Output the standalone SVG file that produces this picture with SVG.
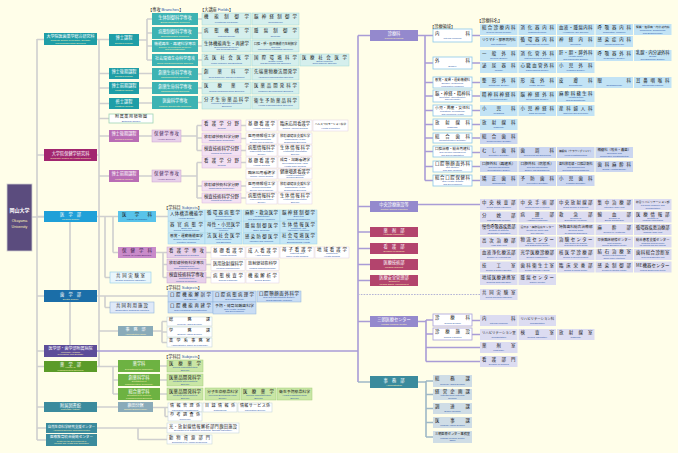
<svg xmlns="http://www.w3.org/2000/svg" width="678" height="453" viewBox="0 0 678 453">
<style>
.j{font-family:"Noto Sans CJK JP","Noto Sans CJK SC",sans-serif;font-size:4.4px;fill:#1a1a1a}
.jw{font-family:"Noto Sans CJK JP","Noto Sans CJK SC",sans-serif;font-size:4.2px;fill:#fff;text-anchor:middle}
.e{font-family:"Liberation Sans",Arial,sans-serif;font-size:2.4px;fill:#2b56a8;text-anchor:middle}
.ew{font-family:"Liberation Sans",Arial,sans-serif;font-size:2.5px;fill:#fff5b8;text-anchor:middle}
.lb{font-family:"Noto Sans CJK JP","Noto Sans CJK SC",sans-serif;font-size:4.2px;fill:#222}
.lb tspan{fill:#2b56a8;font-family:"Liberation Sans",Arial,sans-serif}
.l{stroke:#cfcfcf;stroke-width:1.6;fill:none}
.h{stroke:#a99cd6;stroke-width:1.6;fill:none}
.a{stroke:#9fb8c6;stroke-width:1.6;fill:none}
.dsh{stroke:#b4b4d6;stroke-width:1.2;stroke-dasharray:1.6 1.2;fill:none}
.t1{fill:#1f9ea7}.t2{fill:#3db3b3}.fd{fill:#d5efed;stroke:#a3d8d3;stroke-width:.5}
.mg{fill:#a2266f}.pk{fill:#b96db5}.lp{fill:#e7d0ea;stroke:#c9a2d1;stroke-width:.5}
.pf{fill:#f3e1f3;stroke:#d9b5dd;stroke-width:.5}.wb{fill:#fff;stroke:#e0cfe4;stroke-width:.5}
.bl{fill:#1fa0d8}.bm{fill:#58c3ea}.bs{fill:#c6e7f6;stroke:#9fd3ea;stroke-width:.5}
.db{fill:#1b6ea8}.ds{fill:#c9ddf4;stroke:#8fb3dc;stroke-width:.5}
.hp{fill:#5d4d99}.lv{fill:#9489cd}.mr{fill:#b3446d}
.gr{fill:#5b9b29}.gm{fill:#6db242}.gs{fill:#c9e6a5;stroke:#a0cd78;stroke-width:.5}
.tl{fill:#3b8b9d}.gb{fill:#8aabb9}.wg{fill:#fff;stroke:#c6d6de;stroke-width:.6}
.cd{fill:#c2e3f5}.cp{fill:#cbd6f0}.cf{fill:#dcdcf1}
.wo{fill:#fff;stroke:#8cc8e8;stroke-width:.8}.wl{fill:#fff;stroke:#a9a1d9;stroke-width:.8}
.ad{fill:#cfdde6}.gn{fill:#fff;stroke:#9fd4b4;stroke-width:.8}.cr{fill:#e9f6fc;stroke:#8fcde8;stroke-width:.6}
</style>
<rect width="678" height="453" fill="#fffee9"/>

<g id="connectors">
<path class="l" d="M37 39V440M32 217H44M37 39.5H44M37 155H44M37 216.5H44M37 296H44M37 351H44M37 366.5H44M37 407H44M37 428H46M37 440H46
M99 39.5V367M97 39.5H109M99 73.5H109M99 88H109M99 103.5H109M99 118.5H109M97 155H99M99 136H109M99 176H109
M139 40H147M147 19V60M147 19H152M147 33H152M147 46H152M147 60H152M139 73.5H152M139 88H152M139 103H152
M198 19H202M198 33H202M198 46H202M198 60H202M198 74H202M198 88H202M198 102.5H202
M139 136H152M181 136H197M197 125.5V150.5M197 125.5H202M197 138H202M197 150.5H202M241 125.5H246M241 138.5H246M241 150.5H246
M139 176H152M181 176H197M197 162.5V198M197 162.5H202M197 186H202M197 198H202M241 162.5H246M241 186H246M241 198H246
M97 216.5H118M105 216.5V277.5M105 277.5H110M113 216.5V252.5M113 252.5H118M156 216.5H168M70 222V345
M156 252.5H163M163 252.5V277.5M163 252.5H167M163 264.5H167M163 277.5H167M206 252.5H211M206 264.5H211M206 277.5H211
M97 296H168M105 296V307.5M105 307.5H110
M99 331H118M153 331H162M162 321.5V342.5M162 321.5H167M162 332H167M162 342.5H167
M97 366.5H118M113 366.5V394M113 380H118M113 394H118M160 366H167M160 380H167M160 394H167
M97 407H118M153 407.5H168M165 407.5V416.5M165 416.5H168
M97 428H167M138 428V439.5M138 439.5H167"/>
<path class="h" d="M97 351H358M358 35.5V382M358 35.5H370M358 206.5H370M358 232H370M358 248.5H370M358 264.5H370M358 280.5H370M358 321.5H370
M418 35.5H425M425 35.5V180.5M425 35.5H433M425 63H433M425 82.5H433M425 96H433M425 110.5H433M425 124.5H433M425 138H433M425 151.5H433M425 166.5H433M425 180.5H433
M472 35.5H480M472 63H480M472 82.5H480M472 96H480M472 110.5H480M472 124.5H480M472 138H480M472 152.5H480M472 166.5H480M472 180.5H480
M418 204.5H480M418 321.5H426M426 320V361.5M426 320H433M426 334H433M426 347.5H480M426 361.5H480M472 320.5H480M472 334.5H480"/>
<path class="a" d="M358 382H370M418 382H426M426 381V437M426 381H433M426 394.5H433M426 408.5H433M426 422.5H433M426 437H433"/>
<path class="dsh" d="M358 294.5H480"/>
</g>

<g id="labels">
<text class="lb" x="148" y="10.5">【専攻 <tspan>Branches</tspan>】</text>
<text class="lb" x="200" y="10.5">【大講座 <tspan>Fields</tspan>】</text>
<text class="lb" x="164" y="208.5">【学科目 <tspan>Subjects</tspan>】</text>
<text class="lb" x="164" y="289">【学科目 <tspan>Subjects</tspan>】</text>
<text class="lb" x="164" y="357.5">【学科目 <tspan>Subjects</tspan>】</text>
<text class="lb" x="430" y="27.5">【診療領域】</text>
<text class="lb" x="477" y="22">【診療科名】</text>
</g>

<g id="okayama"><rect x="7" y="184" width="25" height="67" fill="#5b4c7e" stroke="#cfcfcf" stroke-width=".8"/><text class="jw" x="19.5" y="212" style="font-size:5px;font-weight:bold">岡山大学</text><text class="ew" x="19.5" y="222" style="font-size:3.6px">Okayama</text><text class="ew" x="19.5" y="227.5" style="font-size:3.6px">University</text></g>

<g id="gs-mdp"><rect class="t1" x="44" y="33" width="53" height="12"/><text class="jw" x="70.5" y="37.9" style="font-size:4px">大学院医歯薬学総合研究科</text><text class="ew" x="70.5" y="40.9" style="font-size:2.3px">Graduate School of Medicine, Dentistry</text><text class="ew" x="70.5" y="43.6" style="font-size:2.3px">and Pharmaceutical Sciences</text></g>
<g id="gs-health"><rect class="mg" x="44" y="149" width="53" height="12"/><text class="jw" x="70.5" y="154.5">大学院保健学研究科</text><text class="ew" x="70.5" y="158.8">Graduate School of Health Sciences</text></g>
<g id="medical-school"><rect class="bl" x="44" y="211" width="53" height="11"/><text class="jw" x="70.5" y="216.2">医　学　部</text><text class="ew" x="70.5" y="220">Medical School</text></g>
<g id="dental-school"><rect class="db" x="44" y="290" width="53" height="12"/><text class="jw" x="70.5" y="295.5">歯　学　部</text><text class="ew" x="70.5" y="299.7">Dental School</text></g>
<g id="hospital"><rect class="hp" x="44" y="345" width="53" height="12"/><text class="jw" x="70.5" y="349.8" style="font-size:4px">医学部・歯学部附属病院</text><text class="ew" x="70.5" y="352.7" style="font-size:2.3px">University Hospital</text><text class="ew" x="70.5" y="355.4" style="font-size:2.3px">of Medicine and Dentistry</text></g>
<g id="pharm-faculty"><rect class="gr" x="44" y="361" width="53" height="11"/><text class="jw" x="70.5" y="365.5">薬　学　部</text><text class="ew" x="70.5" y="368.3" style="font-size:2.3px">Faculty of</text><text class="ew" x="70.5" y="370.8" style="font-size:2.3px">Pharmaceutical Sciences</text></g>
<g id="library"><rect class="tl" x="44" y="402" width="53" height="10"/><text class="jw" x="70.5" y="406.6">附属図書館</text><text class="ew" x="70.5" y="410.3">University Library</text></g>
<g id="asrc"><rect class="tl" x="46" y="423" width="51" height="10"/><text class="jw" x="71.5" y="427.5" style="font-size:3.4px">自然生命科学研究支援センター</text><text class="ew" x="71.5" y="431.3" style="font-size:2.3px">Advanced Science Research Center</text></g>
<g id="cdmhe"><rect class="tl" x="46" y="434" width="51" height="12"/><text class="jw" x="71.5" y="438.4" style="font-size:3.6px">医療教育統合開発センター</text><text class="ew" x="71.5" y="441.5" style="font-size:2.2px">Center for the Development of</text><text class="ew" x="71.5" y="444.3" style="font-size:2.2px">Medical and Health Care Education</text></g>

<g id="doctor-course"><rect class="t1" x="109" y="34" width="30" height="12"/><text class="jw" x="124" y="39.3">博士課程</text><text class="ew" x="124" y="43.5">Doctor's Course</text></g>
<g id="doctor-late"><rect class="t1" x="109" y="68" width="30" height="11"/><text class="jw" x="124" y="72.8">博士後期課程</text><text class="ew" x="124" y="76.8">Doctor's Course</text></g>
<g id="master-early"><rect class="t1" x="109" y="82" width="30" height="12"/><text class="jw" x="124" y="87">博士前期課程</text><text class="ew" x="124" y="91">Master's Course</text></g>
<g id="master-course"><rect class="t1" x="109" y="98" width="30" height="11"/><text class="jw" x="124" y="102.8">修士課程</text><text class="ew" x="124" y="106.8">Master's Course</text></g>
<g id="botanical"><rect class="gn" x="109" y="114" width="44" height="9"/><text class="j" x="115" y="118.4" textLength="32" style="font-size:4px">附属薬用植物園</text><text class="e" x="131" y="121.8">Botanical Garden</text></g>
<g id="h-doctor"><rect class="pk" x="109" y="130" width="30" height="12"/><text class="jw" x="124" y="135.2">博士後期課程</text><text class="ew" x="124" y="139.5">Doctor's Course</text></g>
<g id="h-master"><rect class="pk" x="109" y="170" width="30" height="12"/><text class="jw" x="124" y="175.2">博士前期課程</text><text class="ew" x="124" y="179.5">Master's Course</text></g>

<g id="br1"><rect class="t2" x="152" y="13" width="46" height="12"/><text class="jw" x="175" y="18.6">生体制御科学専攻</text><text class="ew" x="175" y="22.6">Biophysiological Sciences</text></g>
<g id="br2"><rect class="t2" x="152" y="27" width="46" height="12"/><text class="jw" x="175" y="32.6">病態制御科学専攻</text><text class="ew" x="175" y="36.6">Biopathological Sciences</text></g>
<g id="br3"><rect class="t2" x="152" y="40" width="46" height="12"/><text class="jw" x="175" y="44.5" style="font-size:3.8px">機能再生・再建科学専攻</text><text class="ew" x="175" y="47.6" style="font-size:2.3px">Science of Functional Recovery</text><text class="ew" x="175" y="50.3" style="font-size:2.3px">and Reconstruction</text></g>
<g id="br4"><rect class="t2" x="152" y="54" width="46" height="12"/><text class="jw" x="175" y="59.6" style="font-size:4px">社会環境生命科学専攻</text><text class="ew" x="175" y="63.6" style="font-size:2.3px">Social and Environmental Sciences</text></g>
<g id="br5"><rect class="t2" x="152" y="68" width="46" height="12"/><text class="jw" x="175" y="73.6">創薬生命科学専攻</text><text class="ew" x="175" y="77.6">Pharmaceutical Sciences</text></g>
<g id="br6"><rect class="t2" x="152" y="82" width="46" height="12"/><text class="jw" x="175" y="87.6">創薬生命科学専攻</text><text class="ew" x="175" y="91.6">Pharmaceutical Sciences</text></g>
<g id="br7"><rect class="t2" x="152" y="96" width="46" height="13"/><text class="jw" x="175" y="102">医歯科学専攻</text><text class="ew" x="175" y="106.5">Medical and Dental Sciences</text></g>

<g id="f1a"><rect class="fd" x="202" y="13" width="49" height="12"/><text class="j" x="204" y="18.3" textLength="45">機能制御学</text><text class="e" x="226.5" y="22.6">Functional Physiology</text></g>
<g id="f1b"><rect class="fd" x="252" y="13" width="47" height="12"/><text class="j" x="254" y="18.3" textLength="43">脳神経制御学</text><text class="e" x="275.5" y="22.6">Neuroscience</text></g>
<g id="f2a"><rect class="fd" x="202" y="27" width="49" height="12"/><text class="j" x="204" y="32.3" textLength="45">病態機構学</text><text class="e" x="226.5" y="36.6">Pathophysiology</text></g>
<g id="f2b"><rect class="fd" x="252" y="27" width="47" height="12"/><text class="j" x="254" y="32.3" textLength="43">腫瘍制御学</text><text class="e" x="275.5" y="36.6">Oncology</text></g>
<g id="f3a"><rect class="fd" x="202" y="40" width="49" height="12"/><text class="j" x="204" y="44.5" textLength="45">生体機能再生・再建学</text><text class="e" x="226.5" y="47.6">Biofunctional Recovery</text><text class="e" x="226.5" y="50.3">and Reconstruction</text></g>
<g id="f3b"><rect class="fd" x="252" y="40" width="47" height="12"/><text class="j" x="254" y="44.5" textLength="43" style="font-size:3.07px">口腔・顎・顔面機能再生制御学</text><text class="e" x="275.5" y="47.6">Oral and</text><text class="e" x="275.5" y="50.3">Maxillofacial Functional Recovery</text></g>
<g id="f4a"><rect class="fd" x="202" y="54" width="49" height="12"/><text class="j" x="204" y="59.3" textLength="45">法医社会医学</text><text class="e" x="226.5" y="63.6">Legal Medicine and Bioethics</text></g>
<g id="f4b"><rect class="fd" x="252" y="54" width="47" height="12"/><text class="j" x="254" y="58.5" textLength="43">国際環境科学</text><text class="e" x="275.5" y="61.6">Global Health</text><text class="e" x="275.5" y="64.3">and Environmental Sciences</text></g>
<g id="f4c"><rect class="fd" x="300" y="54" width="49" height="12"/><text class="j" x="302" y="58.5" textLength="45">医療社会医学</text><text class="e" x="324.5" y="61.6">Social Medicine</text><text class="e" x="324.5" y="64.3">and Longevity Science</text></g>
<g id="f5a"><rect class="fd" x="202" y="68" width="49" height="12"/><text class="j" x="204" y="73.3" textLength="45">創薬科学</text><text class="e" x="226.5" y="77.6">Drug Discovery and Development</text></g>
<g id="f5b"><rect class="fd" x="252" y="68" width="47" height="12"/><text class="j" x="254" y="73.3" textLength="43">先端薬物療法開発学</text><text class="e" x="275.5" y="77.6">Advanced Pharmacotherapeutics</text></g>
<g id="f6a"><rect class="fd" x="202" y="82" width="49" height="12"/><text class="j" x="204" y="87.3" textLength="45">医療薬学</text><text class="e" x="226.5" y="91.6">Clinical Pharmaceutical Sciences</text></g>
<g id="f6b"><rect class="fd" x="252" y="82" width="47" height="12"/><text class="j" x="254" y="87.3" textLength="43">医薬品開発科学</text><text class="e" x="275.5" y="91.6">Medicine Development Sciences</text></g>
<g id="f7a"><rect class="fd" x="202" y="96" width="49" height="13"/><text class="j" x="204" y="101" textLength="45">分子生命薬品科学</text><text class="e" x="226.5" y="104.3">Molecular Biopharmaceutical</text><text class="e" x="226.5" y="107">Sciences</text></g>
<g id="f7b"><rect class="fd" x="252" y="96" width="47" height="13"/><text class="j" x="254" y="101.8" textLength="43">衛生予防薬品科学</text><text class="e" x="275.5" y="106">Health Pharmaceutical Sciences</text></g>

<g id="hs-d"><rect class="lp" x="152" y="130" width="29" height="12"/><text class="j" x="154" y="135.2" textLength="25" style="fill:#4a2a5a">保健学専攻</text><text class="e" x="166.5" y="139.5" style="fill:#6a3a8a">Health Sciences</text></g>
<g id="hs-m"><rect class="lp" x="152" y="170" width="29" height="12"/><text class="j" x="154" y="175.2" textLength="25" style="fill:#4a2a5a">保健学専攻</text><text class="e" x="166.5" y="179.5" style="fill:#6a3a8a">Health Sciences</text></g>
<g id="hfd1"><rect class="pf" x="202" y="120" width="39" height="11"/><text class="j" x="204" y="125.2" textLength="35">看護学分野</text><text class="e" x="221.5" y="129.2">Nursing</text></g>
<g id="hfd2"><rect class="pf" x="202" y="133" width="39" height="10"/><text class="j" x="204" y="137.6" textLength="35" style="font-size:3.9px">放射線技術科学分野</text><text class="e" x="221.5" y="141.3">Radiological Technology</text></g>
<g id="hfd3"><rect class="pf" x="202" y="145" width="39" height="11"/><text class="j" x="204" y="150.2" textLength="35">検査技術科学分野</text><text class="e" x="221.5" y="154.2">Medical Technology</text></g>
<g id="hfm1"><rect class="pf" x="202" y="157" width="39" height="11"/><text class="j" x="204" y="162.2" textLength="35">看護学分野</text><text class="e" x="221.5" y="166.2">Nursing</text></g>
<g id="hfm2"><rect class="pf" x="202" y="181" width="39" height="10"/><text class="j" x="204" y="185.6" textLength="35" style="font-size:3.9px">放射線技術科学分野</text><text class="e" x="221.5" y="189.3">Radiological Technology</text></g>
<g id="hfm3"><rect class="pf" x="202" y="193" width="39" height="10"/><text class="j" x="204" y="197.6" textLength="35">検査技術科学分野</text><text class="e" x="221.5" y="201.3">Medical Technology</text></g>

<g id="hsd1"><rect class="wb" x="246" y="120" width="31" height="11"/><text class="j" x="248" y="125.2" textLength="27">基礎看護学</text><text class="e" x="261.5" y="129.2">Human Nursing</text></g>
<g id="hsd2"><rect class="wb" x="278" y="120" width="34" height="11"/><text class="j" x="280" y="125.2" textLength="30" style="font-size:4.29px">臨床応用看護学</text><text class="e" x="295" y="129.2">Clinical Applied Nursing</text></g>
<g id="hsd3"><rect class="wb" x="313" y="120" width="35" height="11"/><text class="j" x="315" y="125.2" textLength="31" style="font-size:2.58px">ヘルスプロモーション科学</text><text class="e" x="330.5" y="129.2">Health Promotion</text></g>
<g id="hsd4"><rect class="wb" x="246" y="133" width="31" height="11"/><text class="j" x="248" y="137.4" textLength="27" style="font-size:3.86px">医用情報理工学</text><text class="e" x="261.5" y="140.3" style="font-size:2.2px">Medical Informatics</text><text class="e" x="261.5" y="142.9" style="font-size:2.2px">Science and Technology</text></g>
<g id="hsd5"><rect class="wb" x="278" y="133" width="34" height="11"/><text class="j" x="280" y="137.4" textLength="30" style="font-size:3.33px">放射線健康支援科学</text><text class="e" x="295" y="140.3">Radiological Health</text><text class="e" x="295" y="142.9">Supporting Sciences</text></g>
<g id="hsd6"><rect class="wb" x="246" y="145" width="31" height="11"/><text class="j" x="248" y="149.4" textLength="27">病態情報科学</text><text class="e" x="261.5" y="152.3" style="font-size:2.2px">Pathological Information</text><text class="e" x="261.5" y="154.9" style="font-size:2.2px">Science</text></g>
<g id="hsd7"><rect class="wb" x="278" y="145" width="34" height="11"/><text class="j" x="280" y="149.4" textLength="30">生体情報科学</text><text class="e" x="295" y="152.3">Functional Information</text><text class="e" x="295" y="154.9">Science</text></g>
<g id="hsm1"><rect class="wb" x="246" y="157" width="31" height="11"/><text class="j" x="248" y="162.2" textLength="27">基礎看護学</text><text class="e" x="261.5" y="166.2">Human Nursing</text></g>
<g id="hsm2"><rect class="wb" x="278" y="157" width="34" height="11"/><text class="j" x="280" y="161.4" textLength="30" style="font-size:3.75px">成育・加齢看護学</text><text class="e" x="295" y="164.3">Development and Aging</text><text class="e" x="295" y="166.9">Health Care Nursing</text></g>
<g id="hsm3"><rect class="wb" x="246" y="169" width="31" height="10"/><text class="j" x="248" y="173.6" textLength="27" style="font-size:3.86px">臨床応用看護学</text><text class="e" x="261.5" y="177.3" style="font-size:2.2px">Clinical Applied Nursing</text></g>
<g id="hsm4"><rect class="wb" x="278" y="169" width="34" height="10"/><text class="j" x="280" y="173" textLength="30" style="font-size:4.29px">健康増進看護学</text><text class="e" x="295" y="175.7">Health Promotion</text><text class="e" x="295" y="178.2">Nursing Science</text></g>
<g id="hsm5"><rect class="wb" x="246" y="181" width="31" height="11"/><text class="j" x="248" y="185.4" textLength="27" style="font-size:3.86px">医用情報理工学</text><text class="e" x="261.5" y="188.3" style="font-size:2.2px">Medical Informatics</text><text class="e" x="261.5" y="190.9" style="font-size:2.2px">Science and Technology</text></g>
<g id="hsm6"><rect class="wb" x="278" y="181" width="34" height="11"/><text class="j" x="280" y="185.4" textLength="30" style="font-size:3.33px">放射線健康支援科学</text><text class="e" x="295" y="188.3">Radiological Health</text><text class="e" x="295" y="190.9">Supporting Sciences</text></g>
<g id="hsm7"><rect class="wb" x="246" y="193" width="31" height="11"/><text class="j" x="248" y="197.4" textLength="27">病態情報科学</text><text class="e" x="261.5" y="200.3" style="font-size:2.2px">Pathological Information</text><text class="e" x="261.5" y="202.9" style="font-size:2.2px">Science</text></g>
<g id="hsm8"><rect class="wb" x="278" y="193" width="34" height="11"/><text class="j" x="280" y="197.4" textLength="30">生体情報科学</text><text class="e" x="295" y="200.3">Functional Information</text><text class="e" x="295" y="202.9">Science</text></g>

<g id="fac-medicine"><rect class="bm" x="118" y="211" width="38" height="11"/><text class="j" x="122" y="216.2" textLength="30">医学科</text><text class="e" x="137" y="220.2" style="fill:#1a4a8a">Faculty of Medicine</text></g>
<g id="fac-health"><rect x="118" y="247" width="38" height="11" fill="#c98bc9"/><text class="j" x="122" y="252.2" textLength="30" style="fill:#3a1a4a">保健学科</text><text class="e" x="137" y="256.2" style="fill:#4a1a6a">Faculty of Health Sciences</text></g>
<g id="central-lab-med"><rect class="cr" x="110" y="272" width="41" height="11"/><text class="j" x="116" y="277.2" textLength="29">共同実験室</text><text class="e" x="130.5" y="281.2">Central Research Laboratory</text></g>

<g id="ms1"><rect class="bs" x="168" y="210" width="37" height="11"/><text class="j" x="170" y="215.2" textLength="33">人体構造機能学</text><text class="e" x="186.5" y="219.2">Human Biology</text></g>
<g id="ms2"><rect class="bs" x="205" y="210" width="37" height="11"/><text class="j" x="207" y="214.4" textLength="33">循環器病態学</text><text class="e" x="223.5" y="217.3">Cardiovascular</text><text class="e" x="223.5" y="219.9">Pathophysiology</text></g>
<g id="ms3"><rect class="bs" x="243" y="210" width="37" height="11"/><text class="j" x="245" y="214.4" textLength="33">麻酔・救急医学</text><text class="e" x="261.5" y="217.3">Anesthesiology</text><text class="e" x="261.5" y="219.9">and Emergency Medicine</text></g>
<g id="ms4"><rect class="bs" x="280" y="210" width="37" height="11"/><text class="j" x="282" y="214.4" textLength="33">脳神経制御学</text><text class="e" x="298.5" y="217.3">Brain and</text><text class="e" x="298.5" y="219.9">Clinical Neuroscience</text></g>
<g id="ms5"><rect class="bs" x="168" y="221.5" width="37" height="11"/><text class="j" x="170" y="225.9" textLength="33">器官病態学</text><text class="e" x="186.5" y="228.8">Basic and</text><text class="e" x="186.5" y="231.4">Clinical Pathophysiology</text></g>
<g id="ms6"><rect class="bs" x="205" y="221.5" width="37" height="11"/><text class="j" x="207" y="225.9" textLength="33">母性・小児医学</text><text class="e" x="223.5" y="228.8">Mother and Child</text><text class="e" x="223.5" y="231.4">Medicine</text></g>
<g id="ms7"><rect class="bs" x="243" y="221.5" width="37" height="11"/><text class="j" x="245" y="226.7" textLength="33">腫瘍制御医学</text><text class="e" x="261.5" y="230.7">Basic Oncology</text></g>
<g id="ms8"><rect class="bs" x="280" y="221.5" width="37" height="11"/><text class="j" x="282" y="225.9" textLength="33">生体情報医学</text><text class="e" x="298.5" y="228.8">Radiology and</text><text class="e" x="298.5" y="231.4">Laboratory Medicine</text></g>
<g id="ms9"><rect class="bs" x="168" y="233" width="37" height="11"/><text class="j" x="170" y="237.4" textLength="33" style="font-size:3.67px">感覚・運動機能医学</text><text class="e" x="186.5" y="240.3">Sensory and Locomotive</text><text class="e" x="186.5" y="242.9">Function Medicine</text></g>
<g id="ms10"><rect class="bs" x="205" y="233" width="37" height="11"/><text class="j" x="207" y="237.4" textLength="33">法医社会医学</text><text class="e" x="223.5" y="240.3">Legal Medicine</text><text class="e" x="223.5" y="242.9">and Bioethics</text></g>
<g id="ms11"><rect class="bs" x="243" y="233" width="37" height="11"/><text class="j" x="245" y="238.2" textLength="33">感染防御医学</text><text class="e" x="261.5" y="242.2">Infection and Immunity</text></g>
<g id="ms12"><rect class="bs" x="280" y="233" width="37" height="11"/><text class="j" x="282" y="237.4" textLength="33">社会環境医学</text><text class="e" x="298.5" y="240.3">Social Medicine and</text><text class="e" x="298.5" y="242.9">Environmental Health</text></g>

<g id="hd1"><rect class="lp" x="167" y="247" width="39" height="11"/><text class="j" x="169" y="252.2" textLength="35">看護学専攻</text><text class="e" x="186.5" y="256.2">Department of Nursing</text></g>
<g id="hd2"><rect class="lp" x="167" y="259.5" width="39" height="11"/><text class="j" x="169" y="263.9" textLength="35" style="font-size:3.89px">放射線技術科学専攻</text><text class="e" x="186.5" y="266.8">Department of</text><text class="e" x="186.5" y="269.4">Radiological Technology</text></g>
<g id="hd3"><rect class="lp" x="167" y="272" width="39" height="11"/><text class="j" x="169" y="276.4" textLength="35">検査技術科学専攻</text><text class="e" x="186.5" y="279.3">Department of</text><text class="e" x="186.5" y="281.9">Medical Technology</text></g>
<g id="hu1"><rect class="wb" x="211" y="247" width="34" height="11"/><text class="j" x="213" y="252.2" textLength="30">基礎看護学</text><text class="e" x="228" y="256.2">Human Nursing</text></g>
<g id="hu2"><rect class="wb" x="246" y="247" width="33" height="11"/><text class="j" x="248" y="252.2" textLength="29">成人看護学</text><text class="e" x="262.5" y="256.2">Adult Nursing</text></g>
<g id="hu3"><rect class="wb" x="280" y="247" width="34" height="11"/><text class="j" x="282" y="251.4" textLength="30">母子看護学</text><text class="e" x="297" y="254.3">Maternal and</text><text class="e" x="297" y="256.9">Child Health Nursing</text></g>
<g id="hu4"><rect class="wb" x="315" y="247" width="34" height="11"/><text class="j" x="317" y="251.4" textLength="30">地域看護学</text><text class="e" x="332" y="254.3">Community</text><text class="e" x="332" y="256.9">Health Nursing</text></g>
<g id="hu5"><rect class="wb" x="211" y="259.5" width="34" height="11"/><text class="j" x="213" y="264.7" textLength="30" style="font-size:4.29px">医用放射線科学</text><text class="e" x="228" y="268.7">Medical Radioscience</text></g>
<g id="hu6"><rect class="wb" x="246" y="259.5" width="33" height="11"/><text class="j" x="248" y="264.7" textLength="29" style="font-size:4.14px">放射線技術科学</text><text class="e" x="262.5" y="268.7">Medical Radiotechnology</text></g>
<g id="hu7"><rect class="wb" x="211" y="272" width="34" height="11"/><text class="j" x="213" y="277.2" textLength="30">病態検査学</text><text class="e" x="228" y="281.2">Clinical Pathology</text></g>
<g id="hu8"><rect class="wb" x="246" y="272" width="33" height="11"/><text class="j" x="248" y="277.2" textLength="29">機能解析学</text><text class="e" x="262.5" y="281.2">Clinical Biology</text></g>

<g id="ds1"><rect class="ds" x="168" y="291" width="45" height="11"/><text class="j" x="170" y="296.2" textLength="41">口腔機能解剖学</text><text class="e" x="190.5" y="300.2">Oral Biology</text></g>
<g id="ds2"><rect class="ds" x="213" y="291" width="43" height="11"/><text class="j" x="215" y="296.2" textLength="39">口腔病態病理学</text><text class="e" x="234.5" y="300.2">Oral Pathobiology</text></g>
<g id="ds3"><rect class="ds" x="257" y="291" width="44" height="11"/><text class="j" x="259" y="295.4" textLength="40">口腔顎顔面外科学</text><text class="e" x="279" y="298.3">Oral and Maxillofacial Surgery</text><text class="e" x="279" y="300.9">and Diagnostic Medicine</text></g>
<g id="ds4"><rect class="ds" x="168" y="302" width="45" height="11"/><text class="j" x="170" y="307.2" textLength="41">口腔機能再建学</text><text class="e" x="190.5" y="311.2">Oral Functional Reconstruction</text></g>
<g id="ds5"><rect class="ds" x="213" y="302" width="43" height="12"/><text class="j" x="215" y="306.6" textLength="39" style="font-size:3.9px">予防・発育加齢歯科学</text><text class="e" x="234.5" y="309.6">Oral Health, Growth</text><text class="e" x="234.5" y="312.3">and Development</text></g>
<g id="coop-facilities"><rect x="110" y="302" width="44" height="11" fill="#dfe9f8" stroke="#8fb4dc" stroke-width=".6"/><text class="j" x="116" y="307.2" textLength="32">共同利用施設</text><text class="e" x="132" y="311.2">Cooperative Research Facilities</text></g>

<g id="admin-office"><rect class="gb" x="118" y="326" width="35" height="10"/><text class="jw" x="135.5" y="330.5" style="font-size:4px">事　務　部</text><text class="ew" x="135.5" y="334.5" style="font-size:2.3px">Administration Office</text></g>
<g id="ao1"><rect class="wg" x="167" y="317" width="45" height="9"/><text class="j" x="169" y="321.2" textLength="41" style="font-size:4px">総務課</text><text class="e" x="189.5" y="324.8">General Affairs Division</text></g>
<g id="ao2"><rect class="wg" x="167" y="327" width="45" height="10"/><text class="j" x="169" y="331.5" textLength="41" style="font-size:4px">学務課</text><text class="e" x="189.5" y="335.3">Student Affairs Division</text></g>
<g id="ao3"><rect class="wg" x="167" y="338" width="45" height="9"/><text class="j" x="169" y="342.2" textLength="41" style="font-size:4px">薬学系事務室</text><text class="e" x="189.5" y="345.8">Administrative Office for Pharmacy</text></g>

<g id="dept-pharmacy"><rect class="gm" x="118" y="360" width="42" height="12"/><text class="jw" x="139" y="365.3">薬学科</text><text class="ew" x="139" y="369.8">Department of Pharmacy</text></g>
<g id="dept-pharmtech"><rect class="gm" x="118" y="374" width="42" height="12"/><text class="jw" x="139" y="378.8">創薬科学科</text><text class="ew" x="139" y="381.8" style="font-size:2.3px">Department of</text><text class="ew" x="139" y="384.5" style="font-size:2.3px">Pharmaceutical Technology</text></g>
<g id="dept-general"><rect class="gm" x="118" y="388" width="42" height="12"/><text class="jw" x="139" y="392.8">総合薬学科</text><text class="ew" x="139" y="395.8" style="font-size:2.3px">Department of General</text><text class="ew" x="139" y="398.5" style="font-size:2.3px">Pharmaceutical Sciences</text></g>
<g id="ps1"><rect class="gs" x="167" y="360" width="36" height="12"/><text class="j" x="169" y="364.8" textLength="32">医療薬学</text><text class="e" x="185" y="367.9">Clinical Pharmaceutical</text><text class="e" x="185" y="370.6">Science</text></g>
<g id="ps2"><rect class="gs" x="167" y="374" width="36" height="12"/><text class="j" x="169" y="378.8" textLength="32">医薬品開発科学</text><text class="e" x="185" y="381.9">Medicine Development</text><text class="e" x="185" y="384.6">Science</text></g>
<g id="ps3"><rect class="gs" x="167" y="388" width="36" height="12"/><text class="j" x="169" y="392.8" textLength="32">医薬品開発科学</text><text class="e" x="185" y="395.9">Medicine Development</text><text class="e" x="185" y="398.6">Science</text></g>
<g id="ps4"><rect class="gs" x="205" y="388" width="35" height="12"/><text class="j" x="207" y="392.8" textLength="31" style="font-size:3.87px">分子生命薬品科学</text><text class="e" x="222.5" y="395.9" style="font-size:2.2px">Molecular Biopharmaceutical</text><text class="e" x="222.5" y="398.6" style="font-size:2.2px">Science</text></g>
<g id="ps5"><rect class="gs" x="241" y="388" width="35" height="12"/><text class="j" x="243" y="392.8" textLength="31">医療薬学</text><text class="e" x="258.5" y="395.9">Clinical Pharmaceutical</text><text class="e" x="258.5" y="398.6">Science</text></g>
<g id="ps6"><rect class="gs" x="277" y="388" width="35" height="12"/><text class="j" x="279" y="392.8" textLength="31" style="font-size:3.87px">衛生予防薬品科学</text><text class="e" x="294.5" y="395.9">Health Pharmaceutical</text><text class="e" x="294.5" y="398.6">Science</text></g>

<g id="shikata-lib"><rect class="gb" x="118" y="402" width="35" height="10"/><text class="jw" x="135.5" y="406.5" style="font-size:4px">鹿田分館</text><text class="ew" x="135.5" y="410.3" style="font-size:2.3px">Shikata Branch Library</text></g>
<g id="lb1"><rect class="wg" x="168" y="403" width="34" height="9"/><text class="j" x="170" y="407.2" textLength="30" style="font-size:4px">情報管理係</text><text class="e" x="185" y="410.8">Information Management</text></g>
<g id="lb2"><rect class="wg" x="203" y="403" width="34" height="9"/><text class="j" x="205" y="407.2" textLength="30" style="font-size:4px">目録情報係</text><text class="e" x="220" y="410.8">Cataloguing</text></g>
<g id="lb3"><rect class="wg" x="238" y="403" width="34" height="9"/><text class="j" x="240" y="407.2" textLength="30" style="font-size:4px">情報サービス係</text><text class="e" x="255" y="410.8">Information Service</text></g>
<g id="lb4"><rect class="wg" x="168" y="412" width="34" height="9"/><text class="j" x="170" y="416.2" textLength="30" style="font-size:4px">参考調査係</text><text class="e" x="185" y="419.8">Reference</text></g>
<g id="radiation-lab"><rect class="wg" x="167" y="423" width="72" height="10"/><text class="j" x="169" y="427.6" textLength="68" style="font-size:4.2px">光・放射線情報解析部門鹿田施設</text><text class="e" x="203" y="431.3">Department of Radiation Research, Shikata Laboratory</text></g>
<g id="animal-res"><rect class="wg" x="167" y="435" width="45" height="9"/><text class="j" x="169" y="439.3" textLength="41" style="font-size:4.2px">動物資源部門</text><text class="e" x="189.5" y="442.7">Department of Animal Resources</text></g>

<g id="clinical-divisions"><rect class="lv" x="370" y="30" width="48" height="11"/><text class="jw" x="394" y="35">診療科</text><text class="ew" x="394" y="39.3">Clinical Divisions</text></g>
<g id="central-facilities"><rect class="lv" x="370" y="201" width="48" height="11"/><text class="jw" x="394" y="206">中央診療施設等</text><text class="ew" x="394" y="210.3">Central Clinical Facilities</text></g>
<g id="hosp-pharmacy"><rect class="mr" x="370" y="227" width="48" height="10"/><text class="jw" x="394" y="231.5">薬　剤　部</text><text class="ew" x="394" y="235.3">Hospital Pharmacy</text></g>
<g id="nursing"><rect class="mr" x="370" y="243" width="48" height="11"/><text class="jw" x="394" y="248">看　護　部</text><text class="ew" x="394" y="252.3">Division of Nursing</text></g>
<g id="med-support"><rect class="mr" x="370" y="259" width="48" height="11"/><text class="jw" x="394" y="264">医療技術部</text><text class="ew" x="394" y="268.3">Medical Support</text></g>
<g id="med-safety"><rect class="mr" x="370" y="275" width="48" height="11"/><text class="jw" x="394" y="279.3">医療安全管理部</text><text class="ew" x="394" y="282.3" style="font-size:2.3px">Division of</text><text class="ew" x="394" y="284.9" style="font-size:2.3px">Medical Safety Management</text></g>
<g id="misasa"><rect class="lv" x="370" y="316" width="48" height="11"/><text class="jw" x="394" y="321">三朝医療センター</text><text class="ew" x="394" y="325.3">Misasa Medical Center</text></g>
<g id="administration"><rect class="tl" x="370" y="376" width="48" height="12"/><text class="jw" x="394" y="381.5">事　務　部</text><text class="ew" x="394" y="386">Administration</text></g>

<g id="cl1"><rect class="wo" x="433" y="29" width="39" height="13"/><text class="j" x="435" y="34.6" textLength="35">内科</text><text class="e" x="452.5" y="39.4">Internal Medicine</text></g>
<g id="cl2"><rect class="wo" x="433" y="57" width="39" height="12"/><text class="j" x="435" y="62.2" textLength="35">外科</text><text class="e" x="452.5" y="66.6">Surgery</text></g>
<g id="cl3"><rect class="wo" x="433" y="77" width="39" height="11"/><text class="j" x="435" y="81.2" textLength="35" style="font-size:3.18px">感覚・皮膚・運動機能科</text><text class="e" x="452.5" y="84.2">Sensory, Cutaneous,</text><text class="e" x="452.5" y="86.8">Locomotive Medicine</text></g>
<g id="cl4"><rect class="wo" x="433" y="90" width="39" height="12"/><text class="j" x="435" y="94.6" textLength="35" style="font-size:4.3px">脳・神経・精神科</text><text class="e" x="452.5" y="97.7">Neurology, Neurosurgery</text><text class="e" x="452.5" y="100.4">and Psychiatry</text></g>
<g id="cl5"><rect class="wo" x="433" y="105" width="39" height="11"/><text class="j" x="435" y="109.4" textLength="35" style="font-size:3.89px">小児・周産・女性科</text><text class="e" x="452.5" y="112.3">Pediatrics, Perinatology</text><text class="e" x="452.5" y="114.9">and Women's Health</text></g>
<g id="cl6"><rect class="wo" x="433" y="119" width="39" height="11"/><text class="j" x="435" y="124.2" textLength="35">放射線科</text><text class="e" x="452.5" y="128.2">Radiology</text></g>
<g id="cl7"><rect class="wo" x="433" y="133" width="39" height="10"/><text class="j" x="435" y="137.6" textLength="35">総合歯科</text><text class="e" x="452.5" y="141.4">Comprehensive Dentistry</text></g>
<g id="cl8"><rect class="wo" x="433" y="146" width="39" height="11"/><text class="j" x="435" y="150.3" textLength="35" style="font-size:3.5px">口腔治療・総合再建科</text><text class="e" x="452.5" y="153.2" style="font-size:2.2px">Oral Infection Management</text><text class="e" x="452.5" y="155.8" style="font-size:2.2px">and Oral Rehabilitation</text></g>
<g id="cl9"><rect class="wo" x="433" y="161" width="39" height="11"/><text class="j" x="435" y="165.4" textLength="35">口腔顎顔面外科</text><text class="e" x="452.5" y="168.3">Oral Surgery</text><text class="e" x="452.5" y="170.9">and Oral Medicine</text></g>
<g id="cl10"><rect class="wo" x="433" y="175" width="39" height="11"/><text class="j" x="435" y="179.4" textLength="35">総合口腔保健科</text><text class="e" x="452.5" y="182.3">Oral Health, Growth</text><text class="e" x="452.5" y="184.9">and Development</text></g>

<g id="dp-r1">
<g id="d1"><rect class="cd" x="480" y="24" width="37.5" height="11"/><text class="j" x="482" y="29.2" textLength="33.5">総合診療内科</text><text class="e" x="498.75" y="33.2" style="font-size:2.2px">General Internal Medicine</text></g>
<g id="d2"><rect class="cd" x="518.5" y="24" width="37.5" height="11"/><text class="j" x="520.5" y="29.2" textLength="33.5">消化器内科</text><text class="e" x="537.25" y="33.2">Gastroenterology</text></g>
<g id="d3"><rect class="cd" x="557" y="24" width="37.5" height="11"/><text class="j" x="559" y="29.2" textLength="33.5">血液・腫瘍内科</text><text class="e" x="575.75" y="33.2" style="font-size:2.2px">Hematology and Oncology</text></g>
<g id="d4"><rect class="cd" x="595.5" y="24" width="37.5" height="11"/><text class="j" x="597.5" y="29.2" textLength="33.5">呼吸器内科</text><text class="e" x="614.25" y="33.2">Respiratory Medicine</text></g>
<g id="d5"><rect class="cd" x="634" y="24" width="37.5" height="11"/><text class="j" x="636" y="28.4" textLength="33.5" style="font-size:2.79px">腎臓・糖尿病・内分泌内科</text><text class="e" x="652.75" y="31.3">Nephrology, Diabetology</text><text class="e" x="652.75" y="33.9">and Endocrinology</text></g>
</g>
<g id="d6"><rect class="cd" x="480" y="36" width="37.5" height="11"/><text class="j" x="482" y="41.2" textLength="33.5" style="font-size:3.35px">リウマチ・膠原病内科</text><text class="e" x="498.75" y="45.2">Rheumatology</text></g>
<g id="d7"><rect class="cd" x="518.5" y="36" width="37.5" height="11"/><text class="j" x="520.5" y="41.2" textLength="33.5">循環器内科</text><text class="e" x="537.25" y="45.2" style="font-size:2.2px">Cardiovascular Medicine</text></g>
<g id="d8"><rect class="cd" x="557" y="36" width="37.5" height="11"/><text class="j" x="559" y="41.2" textLength="33.5">神経内科</text><text class="e" x="575.75" y="45.2">Neurology</text></g>
<g id="d9"><rect class="cd" x="595.5" y="36" width="37.5" height="11"/><text class="j" x="597.5" y="41.2" textLength="33.5">感染症内科</text><text class="e" x="614.25" y="45.2">Infectious Disease</text></g>
<g id="d10"><rect class="cd" x="480" y="50" width="37.5" height="11"/><text class="j" x="482" y="55.2" textLength="33.5">一般外科</text><text class="e" x="498.75" y="59.2">General Surgery</text></g>
<g id="d11"><rect class="cd" x="518.5" y="50" width="37.5" height="11"/><text class="j" x="520.5" y="55.2" textLength="33.5">消化管外科</text><text class="e" x="537.25" y="59.2" style="font-size:2.1px">Gastroenterological Surgery</text></g>
<g id="d12"><rect class="cd" x="557" y="50" width="37.5" height="11"/><text class="j" x="559" y="54.4" textLength="33.5">肝・胆・膵外科</text><text class="e" x="575.75" y="57.3">Hepato-biliary</text><text class="e" x="575.75" y="59.9">and Pancreatic Surgery</text></g>
<g id="d13"><rect class="cd" x="595.5" y="50" width="37.5" height="11"/><text class="j" x="597.5" y="55.2" textLength="33.5">呼吸器外科</text><text class="e" x="614.25" y="59.2">Respiratory Surgery</text></g>
<g id="d14"><rect class="cd" x="634" y="50" width="37.5" height="11"/><text class="j" x="636" y="54.4" textLength="33.5" style="font-size:4.19px">乳腺・内分泌外科</text><text class="e" x="652.75" y="57.3">Breast</text><text class="e" x="652.75" y="59.9">and Endocrine Surgery</text></g>
<g id="d15"><rect class="cd" x="480" y="62" width="37.5" height="11"/><text class="j" x="482" y="67.2" textLength="33.5">泌尿器科</text><text class="e" x="498.75" y="71.2">Urology</text></g>
<g id="d16"><rect class="cd" x="518.5" y="62" width="37.5" height="11"/><text class="j" x="520.5" y="67.2" textLength="33.5">心臓血管外科</text><text class="e" x="537.25" y="71.2" style="font-size:2.2px">Cardiovascular Surgery</text></g>
<g id="d17"><rect class="cd" x="557" y="62" width="37.5" height="11"/><text class="j" x="559" y="67.2" textLength="33.5">小児外科</text><text class="e" x="575.75" y="71.2">Pediatric Surgery</text></g>
<g id="d18"><rect class="cd" x="480" y="77" width="37.5" height="11"/><text class="j" x="482" y="82.2" textLength="33.5">整形外科</text><text class="e" x="498.75" y="86.2">Orthopedic Surgery</text></g>
<g id="d19"><rect class="cd" x="518.5" y="77" width="37.5" height="11"/><text class="j" x="520.5" y="82.2" textLength="33.5">形成外科</text><text class="e" x="537.25" y="86.2">Plastic Surgery</text></g>
<g id="d20"><rect class="cd" x="557" y="77" width="37.5" height="11"/><text class="j" x="559" y="82.2" textLength="33.5">皮膚科</text><text class="e" x="575.75" y="86.2">Dermatology</text></g>
<g id="d21"><rect class="cd" x="595.5" y="77" width="37.5" height="11"/><text class="j" x="597.5" y="82.2" textLength="33.5">眼科</text><text class="e" x="614.25" y="86.2">Ophthalmology</text></g>
<g id="d22"><rect class="cd" x="634" y="77" width="37.5" height="11"/><text class="j" x="636" y="82.2" textLength="33.5">耳鼻咽喉科</text><text class="e" x="652.75" y="86.2">Otorhinolaryngology</text></g>
<g id="d23"><rect class="cd" x="480" y="91" width="37.5" height="11"/><text class="j" x="482" y="96.2" textLength="33.5">精神科神経科</text><text class="e" x="498.75" y="100.2">Neuropsychiatry</text></g>
<g id="d24"><rect class="cd" x="518.5" y="91" width="37.5" height="11"/><text class="j" x="520.5" y="96.2" textLength="33.5">脳神経外科</text><text class="e" x="537.25" y="100.2">Neurological Surgery</text></g>
<g id="d25"><rect class="cd" x="557" y="91" width="37.5" height="11"/><text class="j" x="559" y="95.4" textLength="33.5">麻酔科蘇生科</text><text class="e" x="575.75" y="98.3">Anesthesiology</text><text class="e" x="575.75" y="100.9">and Resuscitology</text></g>
<g id="d26"><rect class="cd" x="480" y="105" width="37.5" height="11"/><text class="j" x="482" y="110.2" textLength="33.5">小児科</text><text class="e" x="498.75" y="114.2">Pediatrics</text></g>
<g id="d27"><rect class="cd" x="518.5" y="105" width="37.5" height="11"/><text class="j" x="520.5" y="110.2" textLength="33.5">小児神経科</text><text class="e" x="537.25" y="114.2">Child Neurology</text></g>
<g id="d28"><rect class="cd" x="557" y="105" width="37.5" height="11"/><text class="j" x="559" y="110.2" textLength="33.5">産科婦人科</text><text class="e" x="575.75" y="114.2" style="font-size:2.1px">Obstetrics and Gynecology</text></g>
<g id="d29"><rect class="cd" x="480" y="119" width="37.5" height="11"/><text class="j" x="482" y="124.2" textLength="33.5">放射線科</text><text class="e" x="498.75" y="128.2">Radiology</text></g>
<g id="d30"><rect class="cp" x="480" y="133" width="37.5" height="11"/><text class="j" x="482" y="138.2" textLength="33.5">総合歯科</text><text class="e" x="498.75" y="142.2" style="font-size:2.2px">Comprehensive Dentistry</text></g>
<g id="d31"><rect class="cp" x="480" y="147" width="37.5" height="11"/><text class="j" x="482" y="152.2" textLength="33.5">むし歯科</text><text class="e" x="498.75" y="156.2">Operative Dentistry</text></g>
<g id="d32"><rect class="cp" x="518.5" y="147" width="37.5" height="11"/><text class="j" x="520.5" y="152.2" textLength="33.5">歯周科</text><text class="e" x="537.25" y="156.2" style="font-size:2.05px">Periodontics and Endodontics</text></g>
<g id="d33"><rect class="cp" x="557" y="147" width="37.5" height="11"/><text class="j" x="559" y="152.2" textLength="33.5" style="font-size:2.58px">補綴科（クラウンブリッジ）</text><text class="e" x="575.75" y="156.2">Fixed Prosthodontics</text></g>
<g id="d34"><rect class="cp" x="595.5" y="147" width="37.5" height="11"/><text class="j" x="597.5" y="151.4" textLength="33.5" style="font-size:3.35px">補綴科（咬合・義歯）</text><text class="e" x="614.25" y="154.3">Occlusion and</text><text class="e" x="614.25" y="156.9">Removable Prosthodontics</text></g>
<g id="d35"><rect class="cp" x="480" y="161" width="37.5" height="11"/><text class="j" x="482" y="165.4" textLength="33.5" style="font-size:3.72px">口腔外科（再建系）</text><text class="e" x="498.75" y="168.3" style="font-size:2.2px">Oral and Maxillofacial</text><text class="e" x="498.75" y="170.9" style="font-size:2.2px">Reconstructive Surgery</text></g>
<g id="d36"><rect class="cp" x="518.5" y="161" width="37.5" height="11"/><text class="j" x="520.5" y="165.4" textLength="33.5" style="font-size:3.72px">口腔外科（病態系）</text><text class="e" x="537.25" y="168.3" style="font-size:2.2px">Oral and Maxillofacial</text><text class="e" x="537.25" y="170.9" style="font-size:2.2px">Surgery and Biopathology</text></g>
<g id="d37"><rect class="cp" x="557" y="161" width="37.5" height="11"/><text class="j" x="559" y="165.4" textLength="33.5" style="font-size:3.05px">歯科放射線・口腔診断科</text><text class="e" x="575.75" y="168.3" style="font-size:2.1px">Oral Diagnosis and</text><text class="e" x="575.75" y="170.9" style="font-size:2.1px">Dentomaxillofacial Radiology</text></g>
<g id="d38"><rect class="cp" x="595.5" y="161" width="37.5" height="11"/><text class="j" x="597.5" y="166.2" textLength="33.5">歯科麻酔科</text><text class="e" x="614.25" y="170.2">Dental Anesthesiology</text></g>
<g id="d39"><rect class="cp" x="480" y="175" width="37.5" height="11"/><text class="j" x="482" y="180.2" textLength="33.5">矯正歯科</text><text class="e" x="498.75" y="184.2">Orthodontics</text></g>
<g id="d40"><rect class="cp" x="518.5" y="175" width="37.5" height="11"/><text class="j" x="520.5" y="180.2" textLength="33.5">予防歯科</text><text class="e" x="537.25" y="184.2">Preventive Dentistry</text></g>
<g id="d41"><rect class="cp" x="557" y="175" width="37.5" height="11"/><text class="j" x="559" y="180.2" textLength="33.5">小児歯科</text><text class="e" x="575.75" y="184.2">Pediatric Dentistry</text></g>

<g id="c1"><rect class="cf" x="480" y="199" width="37.5" height="11"/><text class="j" x="482" y="204.2" textLength="33.5">中央検査部</text><text class="e" x="498.75" y="208.2" style="font-size:2.1px">Central Clinical Laboratory</text></g>
<g id="c2"><rect class="cf" x="518.5" y="199" width="37.5" height="11"/><text class="j" x="520.5" y="204.2" textLength="33.5">中央手術部</text><text class="e" x="537.25" y="208.2" style="font-size:2.1px">Central Division of Surgery</text></g>
<g id="c3"><rect class="cf" x="557" y="199" width="37.5" height="11"/><text class="j" x="559" y="204.2" textLength="33.5">中央放射線部</text><text class="e" x="575.75" y="208.2" style="font-size:2px">Central Division of Radiology</text></g>
<g id="c4"><rect class="cf" x="595.5" y="199" width="37.5" height="11"/><text class="j" x="597.5" y="204.2" textLength="33.5">集中治療部</text><text class="e" x="614.25" y="208.2">Intensive Care Unit</text></g>
<g id="c5"><rect class="cf" x="634" y="199" width="37.5" height="11"/><text class="j" x="636" y="203.4" textLength="33.5" style="font-size:2.79px">総合リハビリテーション部</text><text class="e" x="652.75" y="206.3">Physical Medicine and</text><text class="e" x="652.75" y="208.9">Rehabilitation</text></g>
<g id="c6"><rect class="cf" x="480" y="211.5" width="37.5" height="11"/><text class="j" x="482" y="216.7" textLength="33.5">分娩部</text><text class="e" x="498.75" y="220.7" style="font-size:2.2px">Maternal Fetal Medicine</text></g>
<g id="c7"><rect class="cf" x="518.5" y="211.5" width="37.5" height="11"/><text class="j" x="520.5" y="215.9" textLength="33.5">病理部</text><text class="e" x="537.25" y="218.8">Division of</text><text class="e" x="537.25" y="221.4">Anatomic Pathology</text></g>
<g id="c8"><rect class="cf" x="557" y="211.5" width="37.5" height="11"/><text class="j" x="559" y="215.9" textLength="33.5">救急部</text><text class="e" x="575.75" y="218.8">Division of</text><text class="e" x="575.75" y="221.4">Emergency Medicine</text></g>
<g id="c9"><rect class="cf" x="595.5" y="211.5" width="37.5" height="11"/><text class="j" x="597.5" y="215.9" textLength="33.5">輸血部</text><text class="e" x="614.25" y="218.8">Division of</text><text class="e" x="614.25" y="221.4">Blood Transfusion</text></g>
<g id="c10"><rect class="cf" x="634" y="211.5" width="37.5" height="11"/><text class="j" x="636" y="215.9" textLength="33.5">医療情報部</text><text class="e" x="652.75" y="218.8">Division of</text><text class="e" x="652.75" y="221.4">Medical Informatics</text></g>
<g id="c11"><rect class="cf" x="480" y="224" width="37.5" height="11"/><text class="j" x="482" y="228.4" textLength="33.5" style="font-size:4.19px">慢性呼吸器疾患部</text><text class="e" x="498.75" y="231.3">Division of Chronic</text><text class="e" x="498.75" y="233.9">Respiratory Diseases</text></g>
<g id="c12"><rect class="cf" x="518.5" y="224" width="37.5" height="11"/><text class="j" x="520.5" y="228.4" textLength="33.5" style="font-size:2.79px">遺伝子・細胞治療センター</text><text class="e" x="537.25" y="231.3">Center for Gene and</text><text class="e" x="537.25" y="233.9">Cell Therapy</text></g>
<g id="c13"><rect class="cf" x="557" y="224" width="37.5" height="11"/><text class="j" x="559" y="228.4" textLength="33.5" style="font-size:3.72px">特殊歯科総合治療部</text><text class="e" x="575.75" y="231.3">General Clinic</text><text class="e" x="575.75" y="233.9">for Special Disorders</text></g>
<g id="c14"><rect class="cf" x="595.5" y="224" width="37.5" height="11"/><text class="j" x="597.5" y="229.2" textLength="33.5">麻酔部</text><text class="e" x="614.25" y="233.2" style="font-size:2.2px">Division of Anesthesia</text></g>
<g id="c15"><rect class="cf" x="634" y="224" width="37.5" height="11"/><text class="j" x="636" y="229.2" textLength="33.5" style="font-size:4.19px">循環器疾患治療部</text><text class="e" x="652.75" y="233.2">Cardiac Care Unit</text></g>
<g id="c16"><rect class="cf" x="480" y="236.5" width="37.5" height="11"/><text class="j" x="482" y="241.7" textLength="33.5">高次治療部</text><text class="e" x="498.75" y="245.7">High Care Unit</text></g>
<g id="c17"><rect class="cf" x="518.5" y="236.5" width="37.5" height="11"/><text class="j" x="520.5" y="240.9" textLength="33.5">物流センター</text><text class="e" x="537.25" y="243.8">Supply, Processing</text><text class="e" x="537.25" y="246.4">and Distribution Center</text></g>
<g id="c18"><rect class="cf" x="557" y="236.5" width="37.5" height="11"/><text class="j" x="559" y="240.9" textLength="33.5">治験センター</text><text class="e" x="575.75" y="243.8" style="font-size:2.2px">The Center for Clinical</text><text class="e" x="575.75" y="246.4" style="font-size:2.2px">Research of New Drugs</text></g>
<g id="c19"><rect class="cf" x="595.5" y="236.5" width="37.5" height="11"/><text class="j" x="597.5" y="240.9" textLength="33.5" style="font-size:3.35px">卒後臨床研修センター</text><text class="e" x="614.25" y="243.8" style="font-size:2.2px">Post-Graduate</text><text class="e" x="614.25" y="246.4" style="font-size:2.2px">Clinical Education Center</text></g>
<g id="c20"><rect class="cf" x="634" y="236.5" width="37.5" height="11"/><text class="j" x="636" y="240.9" textLength="33.5" style="font-size:3.35px">総合患者支援センター</text><text class="e" x="652.75" y="243.8" style="font-size:2px">Integrated Support Center</text><text class="e" x="652.75" y="246.4" style="font-size:2px">for Patients and Self-learning</text></g>
<g id="c21"><rect class="cf" x="480" y="249" width="37.5" height="11"/><text class="j" x="482" y="254.2" textLength="33.5">血液浄化療法部</text><text class="e" x="498.75" y="258.2" style="font-size:2.2px">Division of Hemodialysis</text></g>
<g id="c22"><rect class="cf" x="518.5" y="249" width="37.5" height="11"/><text class="j" x="520.5" y="254.2" textLength="33.5">光学医療診療部</text><text class="e" x="537.25" y="258.2" style="font-size:2.2px">Division of Endoscopy</text></g>
<g id="c23"><rect class="cf" x="557" y="249" width="37.5" height="11"/><text class="j" x="559" y="254.2" textLength="33.5">核医学診療部</text><text class="e" x="575.75" y="258.2" style="font-size:2px">Division of Nuclear Medicine</text></g>
<g id="c24"><rect class="cf" x="595.5" y="249" width="37.5" height="11"/><text class="j" x="597.5" y="253.4" textLength="33.5">結石治療室</text><text class="e" x="614.25" y="256.3" style="font-size:2.1px">Division of Extracorporeal</text><text class="e" x="614.25" y="258.9" style="font-size:2.1px">Shock Wave Lithotripsy</text></g>
<g id="c25"><rect class="cf" x="634" y="249" width="37.5" height="11"/><text class="j" x="636" y="254.2" textLength="33.5">歯科総合診断室</text><text class="e" x="652.75" y="258.2" style="font-size:2.2px">General Diagnostic Unit</text></g>
<g id="c26"><rect class="cf" x="480" y="261.5" width="37.5" height="11"/><text class="j" x="482" y="266.7" textLength="33.5">技工室</text><text class="e" x="498.75" y="270.7" style="font-size:2px">Division of Dental Laboratory</text></g>
<g id="c27"><rect class="cf" x="518.5" y="261.5" width="37.5" height="11"/><text class="j" x="520.5" y="266.7" textLength="33.5">歯科衛生士室</text><text class="e" x="537.25" y="270.7" style="font-size:2px">Division of Dental Hygienist</text></g>
<g id="c28"><rect class="cf" x="557" y="261.5" width="37.5" height="11"/><text class="j" x="559" y="266.7" textLength="33.5">臨床栄養部</text><text class="e" x="575.75" y="270.7" style="font-size:2px">Division of Clinical Dietary</text></g>
<g id="c29"><rect class="cf" x="595.5" y="261.5" width="37.5" height="11"/><text class="j" x="597.5" y="266.7" textLength="33.5">感染制御部</text><text class="e" x="614.25" y="270.7" style="font-size:2px">Division of Infection Control</text></g>
<g id="c30"><rect class="cf" x="634" y="261.5" width="37.5" height="11"/><text class="j" x="636" y="266.7" textLength="33.5">ME機器センター</text><text class="e" x="652.75" y="270.7" style="font-size:2.1px">Medical Engineering Center</text></g>
<g id="c31"><rect class="cf" x="480" y="274" width="37.5" height="11"/><text class="j" x="482" y="279.2" textLength="33.5">地域医療連携室</text><text class="e" x="498.75" y="283.2" style="font-size:2.2px">Regional Outreach Office</text></g>
<g id="c32"><rect class="cf" x="518.5" y="274" width="37.5" height="11"/><text class="j" x="520.5" y="279.2" textLength="33.5">腫瘍センター</text><text class="e" x="537.25" y="283.2">Cancer Center</text></g>
<g id="central-lab-hosp"><rect class="cf" x="480" y="289" width="37.5" height="11"/><text class="j" x="482" y="294.2" textLength="33.5">共同実験室</text><text class="e" x="498.75" y="298.2" style="font-size:2.1px">Central Research Laboratory</text></g>

<g id="ms-div"><rect class="wl" x="433" y="314" width="39" height="12"/><text class="j" x="435" y="319.3" textLength="35">診療科</text><text class="e" x="452.5" y="323.6">Clinical Division</text></g>
<g id="ms-fac"><rect class="wl" x="433" y="328" width="39" height="12"/><text class="j" x="435" y="333.3" textLength="35">診療施設</text><text class="e" x="452.5" y="337.6">Clinical Facilities</text></g>
<g id="m1"><rect class="cf" x="480" y="315" width="37.5" height="11"/><text class="j" x="482" y="320.2" textLength="33.5">内科</text><text class="e" x="498.75" y="324.2">Internal Medicine</text></g>
<g id="m2"><rect class="cf" x="518.5" y="315" width="37.5" height="11"/><text class="j" x="520.5" y="320.2" textLength="33.5" style="font-size:3.35px">リハビリテーション科</text><text class="e" x="537.25" y="324.2">Rehabilitation</text></g>
<g id="m3"><rect class="cf" x="480" y="329" width="37.5" height="11"/><text class="j" x="482" y="334.2" textLength="33.5" style="font-size:3.35px">リハビリテーション室</text><text class="e" x="498.75" y="338.2">Rehabilitation</text></g>
<g id="m4"><rect class="cf" x="518.5" y="329" width="37.5" height="11"/><text class="j" x="520.5" y="334.2" textLength="33.5">検査室</text><text class="e" x="537.25" y="338.2">Clinical Laboratory</text></g>
<g id="m5"><rect class="cf" x="557" y="329" width="37.5" height="11"/><text class="j" x="559" y="334.2" textLength="33.5">放射線室</text><text class="e" x="575.75" y="338.2">Radiology</text></g>
<g id="m6"><rect class="cf" x="480" y="342" width="37.5" height="11"/><text class="j" x="482" y="347.2" textLength="33.5">薬剤室</text><text class="e" x="498.75" y="351.2">Pharmacy</text></g>
<g id="m7"><rect class="cf" x="480" y="356" width="37.5" height="11"/><text class="j" x="482" y="361.2" textLength="33.5">看護部門</text><text class="e" x="498.75" y="365.2">Division of Nursing</text></g>

<g id="a1"><rect class="ad" x="433" y="375" width="39" height="12"/><text class="j" x="435" y="380.3" textLength="35">総務課</text><text class="e" x="452.5" y="384.6">General Affairs Division</text></g>
<g id="a2"><rect class="ad" x="433" y="389" width="39" height="11"/><text class="j" x="435" y="393.4" textLength="35">経営企画課</text><text class="e" x="452.5" y="396.3">Management Planning</text><text class="e" x="452.5" y="398.9">Division</text></g>
<g id="a3"><rect class="ad" x="433" y="403" width="39" height="11"/><text class="j" x="435" y="408.2" textLength="35">調達課</text><text class="e" x="452.5" y="412.2">Supply Division</text></g>
<g id="a4"><rect class="ad" x="433" y="417" width="39" height="11"/><text class="j" x="435" y="422.2" textLength="35">医事課</text><text class="e" x="452.5" y="426.2">Medical Affairs Division</text></g>
<g id="a5"><rect class="ad" x="433" y="431" width="39" height="12"/><text class="j" x="435" y="435.4" textLength="35" style="font-size:3.18px">三朝医療センター事務室</text><text class="e" x="452.5" y="438.5">Misasa Medical Center</text><text class="e" x="452.5" y="441.2">Office</text></g>
</svg>
